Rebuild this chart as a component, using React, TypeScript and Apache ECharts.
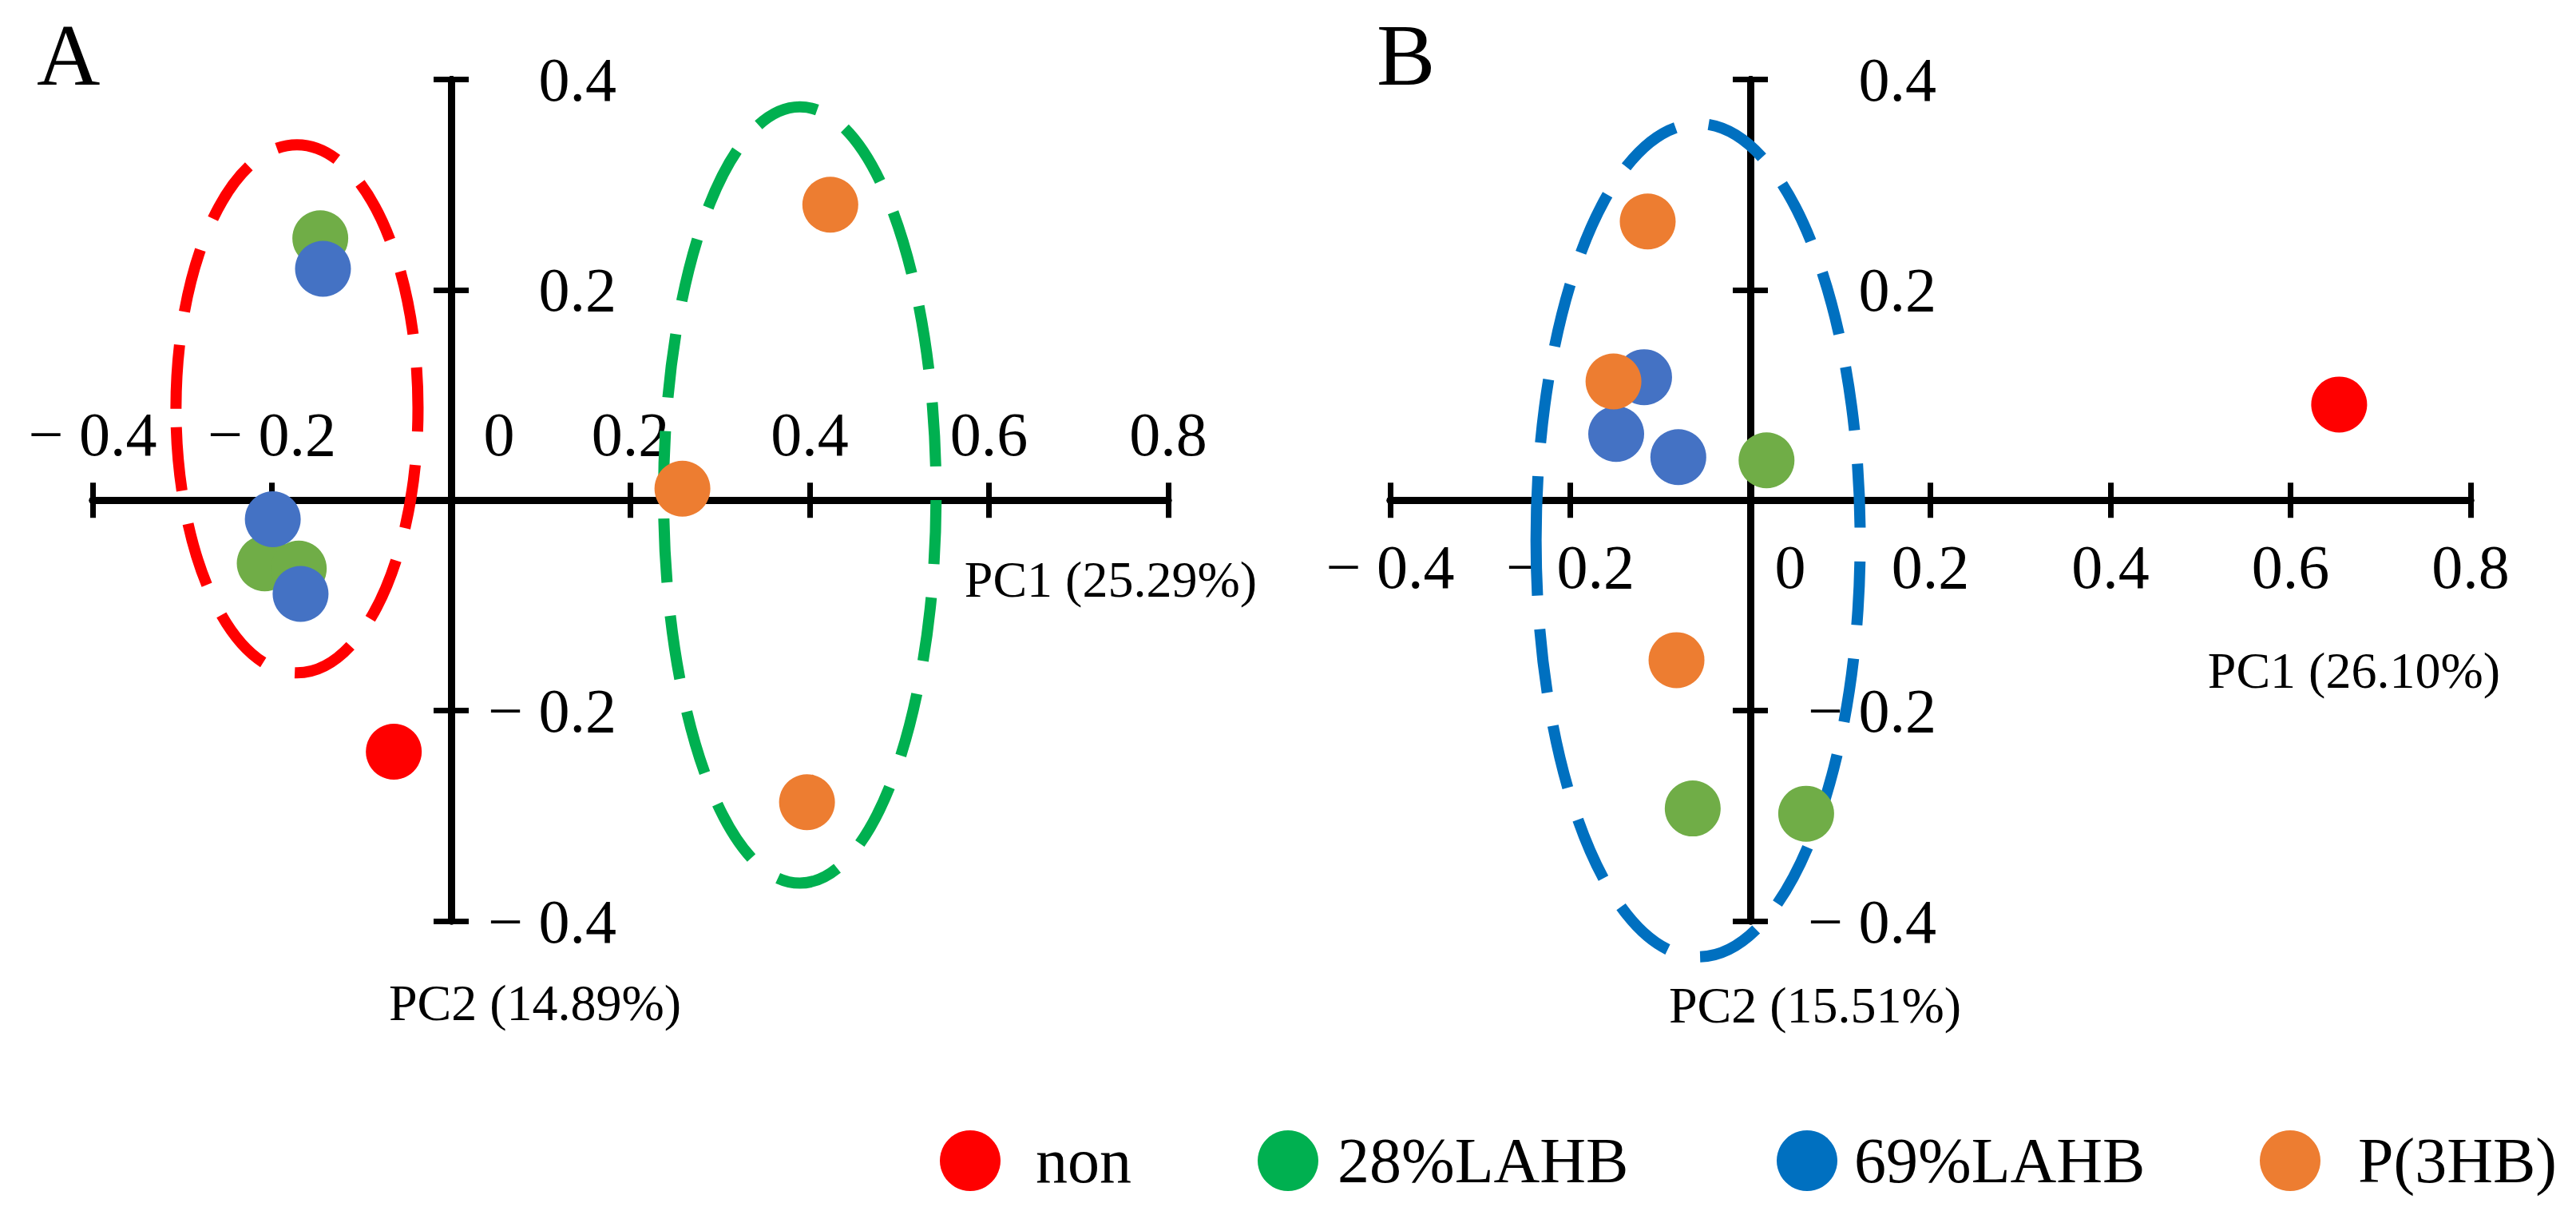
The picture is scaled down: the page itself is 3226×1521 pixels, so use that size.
import React, { useEffect, useRef } from 'react';
import * as echarts from 'echarts';

// ---------- data ----------
const groupNames = ['non', '28%LAHB', '69%LAHB', 'P(3HB)'];
const panelLabels = ['A', 'B'];
const pc1Titles = ['PC1 (25.29%)', 'PC1 (26.10%)'];
const pc2Titles = ['PC2 (14.89%)', 'PC2 (15.51%)'];

const xRange = [-0.4, 0.8];
const yRange = [-0.4, 0.4];
const tickStep = 0.2;

// Panel A scores [PC1, PC2]
const panelA_non = [[-0.064, -0.239]];
const panelA_28LAHB = [[-0.146, 0.249], [-0.208, -0.060], [-0.170, -0.065]];
const panelA_69LAHB = [[-0.143, 0.220], [-0.199, -0.018], [-0.168, -0.089]];
const panelA_P3HB = [[0.423, 0.281], [0.258, 0.011], [0.397, -0.287]];

// Panel B scores [PC1, PC2]
const panelB_non = [[0.654, 0.091]];
const panelB_28LAHB = [[0.018, 0.038], [-0.064, -0.293], [0.062, -0.298]];
const panelB_69LAHB = [[-0.118, 0.117], [-0.149, 0.063], [-0.080, 0.041]];
const panelB_P3HB = [[-0.114, 0.265], [-0.152, 0.113], [-0.082, -0.152]];

// group ellipses [centerPC1, centerPC2, radiusPC1, radiusPC2]
const panelA_ellipseNon = [[-0.172, 0.087, 0.135, 0.251]];
const panelA_ellipseP3HB = [[0.389, 0.005, 0.152, 0.369]];
const panelB_ellipse = [[-0.058, -0.038, 0.180, 0.396]];

// ---------- styles ----------
const pointColors = ['#FF0000', '#70AD47', '#4472C4', '#ED7D31'];
const legendColors = ['#FF0000', '#00B050', '#0070C0', '#ED7D31'];
const FONT = '"Liberation Serif", "Times New Roman", serif';

const App: React.FC = () => {
  const ref = useRef<HTMLDivElement>(null);

  useEffect(() => {
    if (!ref.current) return;
    const chart = echarts.init(ref.current, null, { renderer: 'svg' });

    const fmtX = (v: number) => {
      const r = Math.round(v * 10) / 10;
      if (r === 0) return '{z|0}';
      return r < 0 ? '\u2212 ' + Math.abs(r).toFixed(1) : r.toFixed(1);
    };
    const fmtY = (v: number) => {
      const r = Math.round(v * 10) / 10;
      if (r === 0) return '';
      return r < 0 ? '\u2212 ' + Math.abs(r).toFixed(1) : r.toFixed(1);
    };

    const grids = [
      { left: 116, top: 99.5, width: 1347, height: 1053.5 },
      { left: 1741, top: 99.5, width: 1353, height: 1053.5 },
    ];

    const lineStyle = { color: '#000', width: 9 };
    const tickStyle = { show: true, length: 22, lineStyle: { color: '#000', width: 7 } };
    const labelFont = { fontFamily: FONT, fontSize: 78, color: '#000' };

    const panelCfg = [
      { labelsInside: true, xMargin: 571, zeroPad: 120, yMargin: 656, pc1Gap: 111, pc1Pad: 67, pc2Gap: 70, pc2Pad: 210 },
      { labelsInside: false, xMargin: -483, zeroPad: 100, yMargin: 684, pc1Gap: 37, pc1Pad: 181, pc2Gap: 73, pc2Pad: 162 },
    ];

    const xAxes: any[] = [];
    const yAxes: any[] = [];
    panelCfg.forEach((p, i) => {
      const base = i * 2;
      xAxes.push({
        type: 'value', gridIndex: i, position: 'bottom', min: xRange[0], max: xRange[1], interval: tickStep,
        splitLine: { show: false },
        axisLine: { show: true, onZero: true, onZeroAxisIndex: base, lineStyle },
        axisTick: tickStyle,
        axisLabel: {
          show: true, inside: p.labelsInside, margin: p.xMargin, ...labelFont,
          formatter: fmtX,
          rich: { z: { ...labelFont, padding: [0, 0, 0, p.zeroPad] } },
        },
        name: pc1Titles[i], nameLocation: 'end', nameGap: p.pc1Gap,
        nameTextStyle: { fontFamily: FONT, fontSize: 64, color: '#000', align: 'right', verticalAlign: 'top', padding: [p.pc1Pad, 0, 0, 0] },
      });
      xAxes.push({
        type: 'value', gridIndex: i, position: 'top', min: xRange[0], max: xRange[1], interval: tickStep,
        splitLine: { show: false },
        axisLine: { show: true, onZero: true, onZeroAxisIndex: base, lineStyle },
        axisTick: tickStyle,
        axisLabel: { show: false },
      });
      yAxes.push({
        type: 'value', gridIndex: i, position: 'left', min: yRange[0], max: yRange[1], interval: tickStep,
        splitLine: { show: false },
        axisLine: { show: true, onZero: true, onZeroAxisIndex: base, lineStyle },
        axisTick: tickStyle,
        axisLabel: { show: true, inside: true, align: 'right', margin: p.yMargin, ...labelFont, formatter: fmtY },
        name: pc2Titles[i], nameLocation: 'start', nameGap: p.pc2Gap,
        nameTextStyle: { fontFamily: FONT, fontSize: 64, color: '#000', align: 'center', verticalAlign: 'top', padding: [0, 0, 0, p.pc2Pad] },
      });
      yAxes.push({
        type: 'value', gridIndex: i, position: 'right', min: yRange[0], max: yRange[1], interval: tickStep,
        splitLine: { show: false },
        axisLine: { show: true, onZero: true, onZeroAxisIndex: base, lineStyle },
        axisTick: tickStyle,
        axisLabel: { show: false },
      });
    });

    const ellipseSeries = (data: number[][], color: string, axisIdx: number) => ({
      type: 'custom',
      coordinateSystem: 'cartesian2d',
      xAxisIndex: axisIdx, yAxisIndex: axisIdx,
      z: 3, silent: true, clip: false,
      encode: { x: 0, y: 1 },
      data,
      renderItem: (params: any, api: any) => {
        const c = api.coord([api.value(0), api.value(1)]);
        const s = api.size([api.value(2), api.value(3)]);
        return {
          type: 'ellipse',
          shape: { cx: c[0], cy: c[1], rx: s[0], ry: s[1] },
          style: { fill: 'none', stroke: color, lineWidth: 14, lineDash: [80, 42] },
        };
      },
    });

    const scatter = (name: string, data: number[][], color: string, axisIdx: number) => ({
      type: 'scatter', name, data, xAxisIndex: axisIdx, yAxisIndex: axisIdx,
      symbol: 'circle', symbolSize: 70, z: 4,
      itemStyle: { color, opacity: 1 },
    });

    const panelAData = [panelA_non, panelA_28LAHB, panelA_69LAHB, panelA_P3HB];
    const panelBData = [panelB_non, panelB_28LAHB, panelB_69LAHB, panelB_P3HB];

    const series: any[] = [
      ellipseSeries(panelA_ellipseNon, '#FF0000', 0),
      ellipseSeries(panelA_ellipseP3HB, '#00B050', 0),
      ellipseSeries(panelB_ellipse, '#0070C0', 2),
    ];
    groupNames.forEach((g, k) => {
      series.push(scatter(g, panelAData[k], pointColors[k], 0));
      series.push(scatter(g, panelBData[k], pointColors[k], 2));
    });

    const legendLeft = [1177, 1575, 2225, 2830];
    const legendTextGap = [39, 19, 16, 42];
    const legends = groupNames.map((g, k) => ({
      left: legendLeft[k], top: 1413, padding: 0, selectedMode: false,
      icon: 'circle', itemWidth: 76, itemHeight: 86,
      data: [{ name: g, itemStyle: { color: legendColors[k] } }],
      textStyle: { fontFamily: FONT, fontSize: 80, color: '#000', padding: [0, 0, 0, legendTextGap[k]] },
    }));

    chart.setOption({
      animation: false,
      backgroundColor: '#fff',
      grid: grids,
      xAxis: xAxes,
      yAxis: yAxes,
      legend: legends,
      graphic: [
        { type: 'text', left: 46, top: 14, style: { text: panelLabels[0], fontFamily: FONT, fontSize: 110, fill: '#000' } },
        { type: 'text', left: 1724, top: 14, style: { text: panelLabels[1], fontFamily: FONT, fontSize: 110, fill: '#000' } },
      ],
      series,
    });

    return () => chart.dispose();
  }, []);

  return <div ref={ref} style={{ position: 'absolute', left: 0, top: 0, width: '3226px', height: '1521px' }} />;
};

export default App;
